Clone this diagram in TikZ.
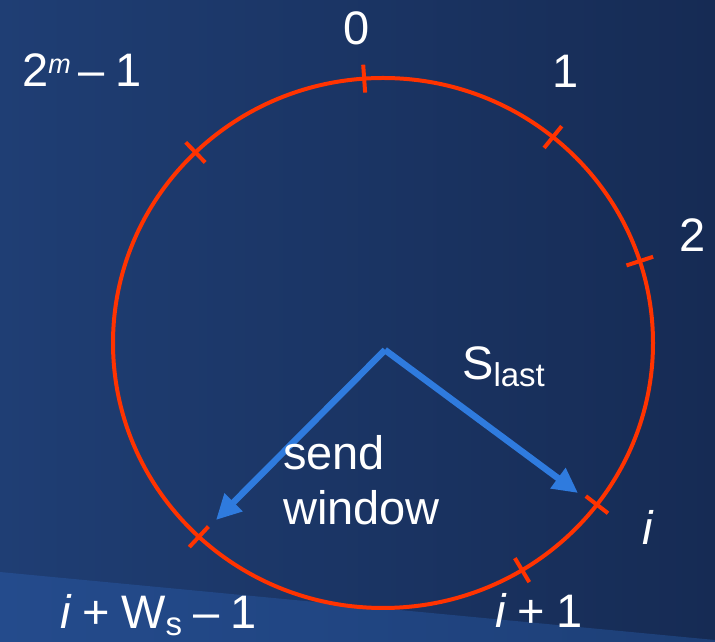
\documentclass[tikz,border=0pt]{standalone}
\usepackage{fontspec}
\setmainfont{Liberation Sans}
\usepackage{xcolor}
\usetikzlibrary{arrows.meta}
\usetikzlibrary{calc}

\definecolor{bgleft}{HTML}{1F3E74}
\definecolor{bgright}{HTML}{162B54}
\definecolor{bandleft}{HTML}{244B8C}
\definecolor{bandright}{HTML}{1D3F77}
\definecolor{ringred}{HTML}{FF3300}
\definecolor{ptrblue}{HTML}{2F7BDE}

\newcommand{\sublow}[1]{\raisebox{-7pt}{\fontsize{33}{33}\selectfont #1}}
\newcommand{\suphigh}[1]{\raisebox{13pt}{\fontsize{27}{27}\selectfont\itshape #1}}
\newcommand{\gap}{\hspace{11pt}}

\tikzset{
  lbl/.style={text=white, inner sep=0pt, font=\fontsize{47}{56}\selectfont},
  ring/.style={ringred, line width=4pt},
  ptr/.style={ptrblue, line width=6.5pt, -{Triangle[length=25pt,width=24pt]}}
}

\begin{document}
\begin{tikzpicture}[x=1pt,y=1pt]
\useasboundingbox (0,0) rectangle (715,642);
\shade[left color=bgleft, right color=bgright] (0,0) rectangle (715,642);
\shade[left color=bandleft, right color=bandright] (0,0) -- (0,70) -- (715,2) -- (715,0) -- cycle;

\coordinate (o) at (383,299);
\coordinate (hub) at (385,292);
\coordinate (lo) at (216,122);
\coordinate (hi) at (578,149);

\draw[ring] (o) ellipse [x radius=270, y radius=265];
\foreach \a in {94,51,18,-37.6,-59,-133,134}
  \draw[ring] ($(o)+(\a:256 and 251)$) -- ($(o)+(\a:284 and 279)$);

\draw[ptr] (hub) -- (lo);
\draw[ptr] (hub) -- (hi);

\node[lbl, anchor=base] (zero) at (357,597) {0};
\node[lbl, anchor=base] (one) at (566,554) {1};
\node[lbl, anchor=base] (two) at (693,390) {2};
\node[lbl, anchor=base west] (top) at (22,555) {2\suphigh{m}\,–\gap1};
\node[lbl, anchor=base west] (slast) at (462,262) {S\sublow{last}};
\node[lbl, anchor=base west] (send) at (283,172) {send};
\node[lbl, anchor=base west] (window) at (283,117) {window};
\node[lbl, anchor=base] (ilbl) at (648,97) {\itshape i};
\node[lbl, anchor=base west] (inext) at (495,14) {\textit{i}\gap+\gap1};
\node[lbl, anchor=base west] (iend) at (60,13) {\textit{i}\gap+\gap W\sublow{s}\gap–\gap1};
\end{tikzpicture}
\end{document}
